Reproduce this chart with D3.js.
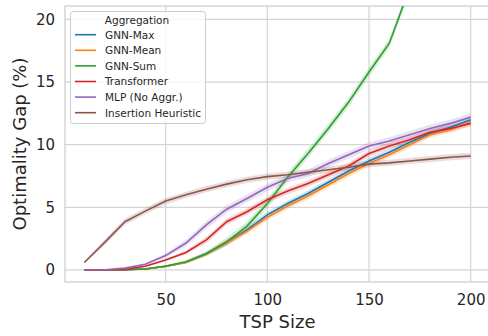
<!DOCTYPE html>
<meta charset="utf-8">
<style>
body { margin: 0; background: #fff; }
text { font-family: "DejaVu Sans", sans-serif; fill: #262626; }
.grid line { stroke: #d5d5d5; stroke-width: 1.2; }
</style>
<svg width="488" height="336"></svg>
<script src="https://cdn.jsdelivr.net/npm/d3@7"></script>
<script>
// TSP sizes
var sizes = [10,20,30,40,50,60,70,80,90,100,110,120,130,140,150,160,170,180,190,200];

var names = ["GNN-Max", "GNN-Mean", "GNN-Sum", "Transformer", "MLP (No Aggr.)", "Insertion Heuristic"];
var colors = ["#1f77b4", "#ff7f0e", "#2ca02c", "#d62728", "#9467bd", "#8c564b"];

var gnnMax   = [0,0,0.02,0.08,0.3,0.62,1.3,2.2,3.2,4.4,5.3,6.1,7.0,7.9,8.7,9.4,10.2,10.9,11.4,12.0];
var gnnMean  = [0,0,0.02,0.08,0.3,0.6,1.28,2.15,3.1,4.2,5.1,5.9,6.8,7.7,8.5,9.2,10.0,10.8,11.2,11.8];
var gnnSum   = [0,0,0.02,0.08,0.3,0.65,1.3,2.25,3.5,5.3,7.4,9.3,11.3,13.4,15.8,18.1,22.5,26,29.5,33];
var transf   = [0,0,0.05,0.3,0.8,1.4,2.4,3.85,4.65,5.6,6.3,6.9,7.6,8.3,9.3,9.9,10.4,11.0,11.3,11.7];
var mlp      = [0,0.02,0.15,0.45,1.15,2.15,3.6,4.85,5.7,6.6,7.3,7.7,8.5,9.2,9.9,10.3,10.8,11.3,11.7,12.2];
var insertion= [0.6,2.2,3.85,4.7,5.5,6.0,6.45,6.85,7.2,7.45,7.6,7.8,8.0,8.2,8.45,8.55,8.7,8.85,9.0,9.1];

// half width of the confidence band (at larger gaps)
var bandHalf = [0.25, 0.25, 0.35, 0.25, 0.3, 0.25];

var xTicks = [50, 100, 150, 200];
var yTicks = [0, 5, 10, 15, 20];

var allSeries = [gnnMax, gnnMean, gnnSum, transf, mlp, insertion];

var svg = d3.select("svg");
var margin = {left: 65, top: 6, right: -2, bottom: 54};
var width = 488 - margin.left - margin.right,
    height = 336 - margin.top - margin.bottom;

var x = d3.scaleLinear().domain([0.5, 209.5]).range([margin.left, margin.left + width]);
var y = d3.scaleLinear().domain([-0.96, 21.07]).range([margin.top + height, margin.top]);

svg.append("defs").append("clipPath").attr("id", "clip")
  .append("rect")
    .attr("x", margin.left).attr("y", margin.top)
    .attr("width", width).attr("height", height);

// grid
var grid = svg.append("g").attr("class", "grid");
grid.selectAll(".gx").data(xTicks).enter().append("line")
    .attr("x1", function(d) { return x(d); }).attr("x2", function(d) { return x(d); })
    .attr("y1", margin.top).attr("y2", margin.top + height);
grid.selectAll(".gy").data(yTicks).enter().append("line")
    .attr("y1", function(d) { return y(d); }).attr("y2", function(d) { return y(d); })
    .attr("x1", margin.left).attr("x2", margin.left + width);

// spines
svg.append("rect")
    .attr("x", margin.left).attr("y", margin.top)
    .attr("width", width).attr("height", height)
    .attr("fill", "none").attr("stroke", "#cccccc").attr("stroke-width", 1.2);

// axes
var xAxis = svg.append("g")
    .attr("transform", "translate(0," + (margin.top + height) + ")")
    .call(d3.axisBottom(x).tickValues(xTicks).tickSize(0).tickPadding(12));
var yAxis = svg.append("g")
    .attr("transform", "translate(" + margin.left + ",0)")
    .call(d3.axisLeft(y).tickValues(yTicks).tickSize(0).tickPadding(10));
[xAxis, yAxis].forEach(function(a) {
  a.select(".domain").remove();
  a.selectAll("text").attr("font-size", 15).attr("font-family", "DejaVu Sans").attr("fill", "#262626");
});

svg.append("text")
    .attr("x", margin.left + width / 2).attr("y", 328)
    .attr("text-anchor", "middle").attr("font-size", 18)
    .text("TSP Size");
svg.append("text")
    .attr("transform", "translate(26," + (margin.top + height / 2) + ") rotate(-90)")
    .attr("text-anchor", "middle").attr("font-size", 18)
    .text("Optimality Gap (%)");

// bands and lines
var plot = svg.append("g").attr("clip-path", "url(#clip)");

var area = d3.area()
    .x(function(d) { return x(d.x); })
    .y0(function(d) { return y(d.y - d.h); })
    .y1(function(d) { return y(d.y + d.h); });
var line = d3.line()
    .x(function(d) { return x(d.x); })
    .y(function(d) { return y(d.y); });

allSeries.forEach(function(vals, i) {
  // narrower band where the gap is close to zero
  var pts = vals.map(function(v, j) {
    return {x: sizes[j], y: v, h: bandHalf[i] * Math.min(1, 0.15 + v / 3)};
  });
  plot.append("path").datum(pts)
      .attr("d", area).attr("fill", colors[i]).attr("fill-opacity", 0.2).attr("stroke", "none");
});
allSeries.forEach(function(vals, i) {
  var pts = vals.map(function(v, j) { return {x: sizes[j], y: v}; });
  plot.append("path").datum(pts)
      .attr("d", line).attr("fill", "none").attr("stroke", colors[i]).attr("stroke-width", 1.6);
});

// legend
var lg = svg.append("g");
lg.append("rect")
    .attr("x", 70.5).attr("y", 11.5).attr("width", 135).attr("height", 112).attr("rx", 3)
    .attr("fill", "#fff").attr("fill-opacity", 0.8).attr("stroke", "#cccccc");
lg.append("text").attr("x", 137).attr("y", 24).attr("text-anchor", "middle")
    .attr("font-size", 10.5).text("Aggregation");
var rows = lg.selectAll(".row").data(names).enter().append("g")
    .attr("transform", function(d, i) { return "translate(0," + (34.7 + i * 15.6) + ")"; });
rows.append("line").attr("x1", 75).attr("x2", 96).attr("y1", 0).attr("y2", 0)
    .attr("stroke", function(d, i) { return colors[i]; }).attr("stroke-width", 1.6);
rows.append("text").attr("x", 105).attr("y", 3.8).attr("font-size", 10.5)
    .text(function(d) { return d; });
</script>
